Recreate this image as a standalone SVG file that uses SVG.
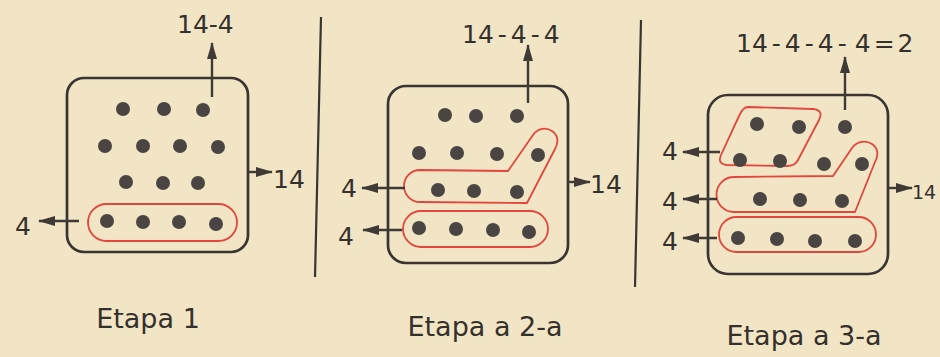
<svg xmlns="http://www.w3.org/2000/svg" width="940" height="357" viewBox="0 0 940 357">
<defs>
<marker id="ah" markerUnits="userSpaceOnUse" markerWidth="18" markerHeight="12" refX="16" refY="6" orient="auto">
<path d="M0,1 L17,6 L0,11 Z" fill="#3f3a36"/>
</marker>
<style>
.box{fill:none;stroke:#3a3531;stroke-width:2.7}
.grp{fill:none;stroke:#e2463c;stroke-width:1.8;stroke-linejoin:round}
.dot{fill:#4a4542}
.arr{stroke:#3f3a36;stroke-width:2.4;fill:none;marker-end:url(#ah)}
.div{stroke:#3a3531;stroke-width:2.2}
.t{font-family:"DejaVu Sans","Liberation Sans",sans-serif;fill:#34302c;font-size:25px}
.cap{font-family:"DejaVu Sans","Liberation Sans",sans-serif;fill:#34302c;font-size:27px}
</style>
</defs>
<rect width="940" height="357" fill="#f2e5c5"/>

<g id="dividers">
<line class="div" x1="321" y1="17" x2="315" y2="277"/>
<line class="div" x1="641" y1="20" x2="635" y2="287"/>
</g>

<g id="etapa1">
<rect class="box" x="67" y="78" width="181" height="174" rx="17"/>
<rect class="grp" x="88" y="204" width="149" height="37" rx="18.5"/>
<g class="dot">
<circle cx="123" cy="109" r="7"/><circle cx="164" cy="109" r="7"/><circle cx="203" cy="110" r="7"/>
<circle cx="105" cy="146" r="7"/><circle cx="143" cy="146" r="7"/><circle cx="180" cy="146" r="7"/><circle cx="218" cy="147" r="7"/>
<circle cx="126" cy="182" r="7"/><circle cx="163" cy="183" r="7"/><circle cx="198" cy="183" r="7"/>
<circle cx="107" cy="221" r="7"/><circle cx="143" cy="222" r="7"/><circle cx="179" cy="222" r="7"/><circle cx="216" cy="224" r="7"/>
</g>
<text class="t" x="177" y="33">14-4</text>
<text class="t" x="273" y="188">14</text>
<text class="t" x="15" y="235">4</text>
<text class="cap" x="148" y="328" text-anchor="middle">Etapa 1</text>
</g>

<g id="etapa2">
<rect class="box" x="388" y="86" width="180" height="177" rx="18"/>
<path class="grp" d="M420,170 L508,171 L533,135 C538,128 546,127 552,131 C558,135 559,142 555,149 L527,203 L420,202 A16,16 0 0 1 420,170 Z"/>
<rect class="grp" x="403" y="211" width="145" height="36" rx="18"/>
<g class="dot">
<circle cx="445" cy="115" r="7"/><circle cx="476" cy="116" r="7"/><circle cx="517" cy="116" r="7"/>
<circle cx="419" cy="153" r="7"/><circle cx="457" cy="153" r="7"/><circle cx="497" cy="154" r="7"/><circle cx="538" cy="155" r="7"/>
<circle cx="438" cy="190" r="7"/><circle cx="474" cy="191" r="7"/><circle cx="517" cy="192" r="7"/>
<circle cx="419" cy="228" r="7"/><circle cx="456" cy="229" r="7"/><circle cx="493" cy="230" r="7"/><circle cx="529" cy="232" r="7"/>
</g>
<text class="t" x="462" y="43">14<tspan dx="4">-</tspan><tspan dx="4">4</tspan><tspan dx="4">-</tspan><tspan dx="4">4</tspan></text>
<text class="t" x="590" y="193">14</text>
<text class="t" x="341" y="197">4</text>
<text class="t" x="338" y="245">4</text>
<text class="cap" x="485" y="336" text-anchor="middle">Etapa a 2-a</text>
</g>

<g id="etapa3">
<rect class="box" x="708" y="95" width="180" height="179" rx="20"/>
<path class="grp" d="M748,107 L813,109 Q824,110 819,120 L798,160 Q795,166 787,166 L727,165 Q717,164 721,155 L739,116 Q743,107 748,107 Z"/>
<path class="grp" d="M734,177 L833,176 L852,148 C857,141 866,140 872,144 C878,148 879,155 875,162 L855,212 L734,212 A17.5,17.5 0 0 1 734,177 Z"/>
<rect class="grp" x="719" y="217" width="157" height="35" rx="17.5"/>
<g class="dot">
<circle cx="757" cy="124" r="7"/><circle cx="799" cy="127" r="7"/><circle cx="845" cy="127" r="7"/>
<circle cx="740" cy="160" r="7"/><circle cx="780" cy="161" r="7"/><circle cx="824" cy="164" r="7"/><circle cx="862" cy="164" r="7"/>
<circle cx="760" cy="199" r="7"/><circle cx="800" cy="200" r="7"/><circle cx="842" cy="201" r="7"/>
<circle cx="738" cy="238" r="7"/><circle cx="777" cy="239" r="7"/><circle cx="815" cy="241" r="7"/><circle cx="855" cy="241" r="7"/>
</g>
<text class="t" x="736" y="52">14<tspan dx="4">-</tspan><tspan dx="4">4</tspan><tspan dx="4">-</tspan><tspan dx="4">4</tspan><tspan dx="4">-</tspan><tspan dx="8">4</tspan><tspan dx="3">=</tspan><tspan dx="3">2</tspan></text>
<text class="t" x="912" y="199" style="font-size:19px">14</text>
<text class="t" x="662" y="160">4</text>
<text class="t" x="662" y="210">4</text>
<text class="t" x="662" y="250">4</text>
<text class="cap" x="804" y="345" text-anchor="middle">Etapa a 3-a</text>
</g>

<g id="connectors">
<line class="arr" x1="212" y1="97" x2="212" y2="43"/>
<line class="arr" x1="248" y1="172" x2="272" y2="172"/>
<line class="arr" x1="79" y1="221" x2="39" y2="221"/>
<line class="arr" x1="528" y1="103" x2="528" y2="45"/>
<line class="arr" x1="568" y1="182" x2="590" y2="182"/>
<line class="arr" x1="405" y1="188" x2="362" y2="188"/>
<line class="arr" x1="402" y1="230" x2="363" y2="230"/>
<line class="arr" x1="845" y1="110" x2="845" y2="57"/>
<line class="arr" x1="888" y1="188" x2="912" y2="188"/>
<line class="arr" x1="720" y1="152" x2="683" y2="152"/>
<line class="arr" x1="717" y1="199" x2="683" y2="199"/>
<line class="arr" x1="717" y1="238" x2="683" y2="238"/>
</g>
</svg>
